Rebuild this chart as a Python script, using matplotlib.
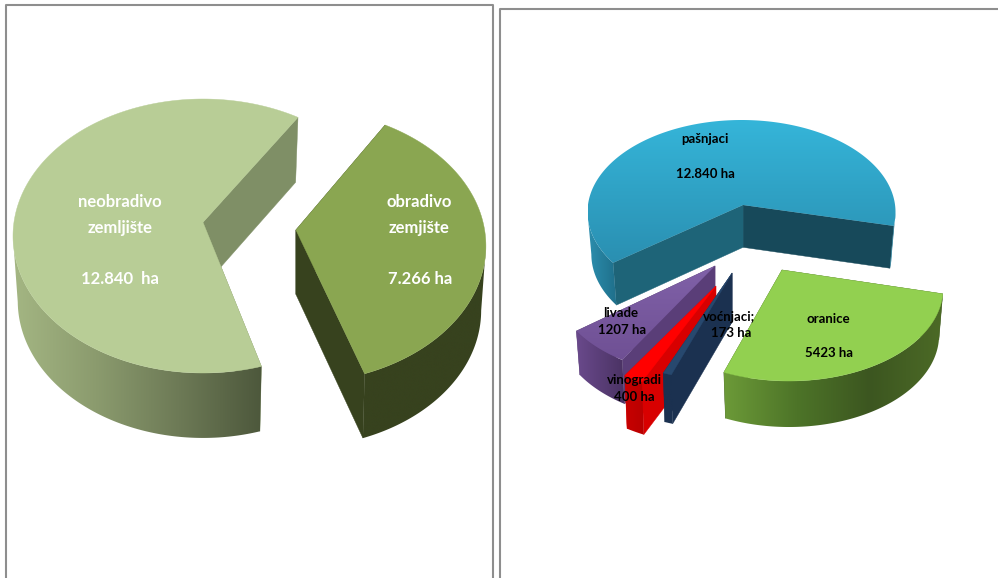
import numpy as np
import matplotlib
matplotlib.use("Agg")
import matplotlib.pyplot as plt
from matplotlib.colors import LinearSegmentedColormap
from matplotlib.patches import Polygon

W, H = 998, 578

# left chart
land_labels = [["neobradivo", "zemljište", "12.840  ha"], ["obradivo", "zemjište", "7.266 ha"]]
land_values = [12840, 7266]

# right chart
use_labels = [["pašnjaci", "12.840 ha"], ["livade", "1207 ha"], ["vinogradi", "400 ha"], ["voćnjaci;", "173 ha"], ["oranice", "5423 ha"]]
use_values = [12840, 1207, 400, 173, 5423]

# drawing style of each slice, all in pie radius units
land_shift = [(0, 0), (0.489, -0.073)]
land_apex = [(0, 0.10), (0, 0.117)]
land_depth = [0.474, 0.47]
land_nudge = [(0, -2), (1.3, 2)]
land_top = [("#b8cd96", "#b8cd96"), ("#8aa651", "#8aa651")]
land_wall = ["#7f8f66", "#37421e"]
land_side = [["#a4b683", "#8b9b6e", "#6d7a56", "#4d583c"], ["#37421e", "#37421e"]]

use_shift = [(0, 0), (-0.172, -0.793), (-0.166, -0.957), (-0.11, -0.826), (0.308, -0.837)]
use_apex = [(0.01, 0.076), (0, 0.207), (0, 0.152), (0.049, 0.163), (-0.045, 0.207)]
use_depth = [0.46, 0.478, 0.576, 0.533, 0.5]
use_nudge = [(3.3, -5.1), (-8.6, -5.7), (-5, -5), (0, 0), (-5.6, 9)]
use_xscale = [1, 1.04, 1.04, 1.04, 1]
use_top = [("#35b5d9", "#2a8fb1"), ("#8061a8", "#6f5094"), ("#ff0000", "#ff0000"), ("#27486e", "#27486e"), ("#92d050", "#92d050")]
use_wall = [("#17495a", "#1e6478"), ("#5a3e78", "#5a3e78"), ("#d80000", "#d80000"), ("#1b3150", "#1b3150"), ("#3f5a20", "#3f5a20")]
use_side = [["#2c8eae", "#1f6f8a"], ["#6a4a8c", "#4a3263"], ["#c80000", "#b80000"], ["#1b3150", "#1b3150"], ["#6c9a38", "#4d7428", "#3c5620", "#4c6a26"]]

order = [0]


def next_z():
    order[0] += 1
    return order[0]


def gradient(ax, poly, colors, vertical=False):
    patch = Polygon(poly, closed=True, fc="none", ec="none")
    ax.add_patch(patch)
    cmap = LinearSegmentedColormap.from_list("g", colors)
    ramp = np.linspace(0, 1, 256)
    ramp = ramp[:, None] if vertical else ramp[None, :]
    x0, x1 = poly[:, 0].min(), poly[:, 0].max()
    y0, y1 = poly[:, 1].min(), poly[:, 1].max()
    im = ax.imshow(ramp, extent=(x0, x1, y0, y1), cmap=cmap, aspect="auto", origin="upper",
                   interpolation="bilinear", zorder=next_z())
    im.set_clip_path(patch)


def draw_slice(ax, t1, t2, shift, apex, depth, top, wall, side, xscale=1.0):
    th = np.radians(np.linspace(t1, t2, 300))
    sx, sy = shift
    rim = np.c_[sx + xscale * np.cos(th), sy + np.sin(th)]
    low = np.c_[sx + 0.975 * xscale * np.cos(th), sy + np.sin(th) - depth]
    a = np.array([sx + apex[0], sy + apex[1]])
    a_low = a - [0, depth]

    # cut faces, the one at the far end first
    ends = [(0, wall[0]), (-1, wall[1])]
    for i, c in sorted(ends, key=lambda e: -rim[e[0], 1]):
        ax.add_patch(Polygon(np.array([a, rim[i], low[i], a_low]), closed=True, fc=c, ec=c, lw=0.3, zorder=next_z()))

    # outer wall, only where it faces the viewer
    front = np.sin(th) <= 0
    idx = np.flatnonzero(front)
    if len(idx):
        for run in np.split(idx, np.flatnonzero(np.diff(idx) > 1) + 1):
            poly = np.vstack([rim[run], low[run][::-1]])
            gradient(ax, poly, side)

    face = np.vstack([a, rim])
    if top[0] == top[1]:
        ax.add_patch(Polygon(face, closed=True, fc=top[0], ec=top[0], lw=0.3, zorder=next_z()))
    else:
        gradient(ax, face, top, vertical=True)


def pie_axes(fig, values, start, cx, cy, rx, ry):
    ax = fig.add_axes([0, 0, 1, 1], facecolor="none")
    wedges, _ = ax.pie(values, startangle=start, radius=1)
    angles = [(w.theta1, w.theta2) for w in wedges]
    for w in wedges:
        w.remove()
    ax.set_aspect("auto")
    ax.set_xlim(-cx / rx, (W - cx) / rx)
    ax.set_ylim((cy - H) / ry, cy / ry)
    ax.set_autoscale_on(False)
    ax.axis("off")
    return ax, angles


fig = plt.figure(figsize=(W / 100, H / 100), dpi=100, facecolor="white")

# panel frames
bg = fig.add_axes([0, 0, 1, 1], facecolor="none")
bg.set_xlim(0, W)
bg.set_ylim(H, 0)
bg.axis("off")
frame = dict(color="#8e8e8e", lw=1.5, solid_capstyle="butt")
bg.plot([6, 6, 493, 493], [H, 5, 5, H], **frame)
bg.plot([500, 500, W], [H, 9, 9], **frame)

ax, angles = pie_axes(fig, land_values, 60, 203, 236, 190, 137)
for i in range(len(land_values)):
    t1 = angles[i][0] + land_nudge[i][0]
    t2 = angles[i][1] + land_nudge[i][1]
    draw_slice(ax, t1, t2, land_shift[i], land_apex[i], land_depth[i], land_top[i], (land_wall[i], land_wall[i]), land_side[i])

ax, angles = pie_axes(fig, use_values, -12, 741.5, 212, 154, 92)
for i in range(len(use_values)):
    t1 = angles[i][0] + use_nudge[i][0]
    t2 = angles[i][1] + use_nudge[i][1]
    draw_slice(ax, t1, t2, use_shift[i], use_apex[i], use_depth[i], use_top[i], use_wall[i], use_side[i], use_xscale[i])

# labels on top of everything
tx = fig.add_axes([0, 0, 1, 1], facecolor="none")
tx.set_xlim(0, W)
tx.set_ylim(H, 0)
tx.axis("off")
font = dict(family=["Lato", "DejaVu Sans"], weight="bold", ha="center", va="center")

land_pos = [[(120, 202), (120, 228), (120, 279)], [(419, 202), (419, 228), (420, 279)]]
use_pos = [[(705, 139), (705, 174)], [(621, 313), (622, 330)], [(634, 380), (634, 397)],
           [(729, 317), (731, 333)], [(828, 319), (829, 353)]]

for lines, places in zip(land_labels, land_pos):
    for s, (x, y) in zip(lines, places):
        tx.text(x, y, s, color="white", fontsize=12, **font)
for lines, places in zip(use_labels, use_pos):
    for s, (x, y) in zip(lines, places):
        tx.text(x, y, s, color="black", fontsize=9.5, **font)

fig.savefig("out.png", dpi=100)
